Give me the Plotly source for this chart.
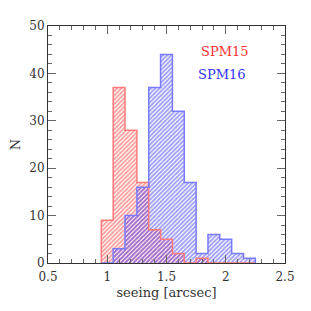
import plotly.graph_objects as go

bin_centers = [1.0, 1.1, 1.2, 1.3, 1.4, 1.5, 1.6, 1.7, 1.8, 1.9, 2.0, 2.1, 2.2]
spm15 = [9, 37, 28, 17, 7, 5, 2, 0, 1, 0, 0, 0, 0]
spm16 = [0, 3, 10, 16, 37, 44, 32, 17, 2, 6, 5, 2, 1]
bin_width = 0.1
x_ticks = [0.5, 1, 1.5, 2, 2.5]
x_tick_labels = ["0.5", "1", "1.5", "2", "2.5"]
y_ticks = [0, 10, 20, 30, 40, 50]

RED_HATCH = "#ff3a3a"
RED_LINE = "#ff7a7a"
BLUE_HATCH = "#3a3aff"
BLUE_LINE = "#7a7aff"

fig = go.Figure()


def add_hist(counts, hatch, line, name):
    fig.add_trace(go.Bar(
        x=bin_centers, y=counts, width=bin_width, name=name,
        marker=dict(color="rgba(0,0,0,0)", line=dict(width=0),
                    pattern=dict(shape="/", fgcolor=hatch, bgcolor="rgba(0,0,0,0)",
                                 size=3, solidity=0.6, fillmode="overlay")),
        showlegend=False, hoverinfo="skip"))
    xs, ys = [], []
    for c, v in zip(bin_centers, counts):
        xs.append(c - bin_width / 2)
        ys.append(v)
    xs.append(bin_centers[-1] + bin_width / 2)
    ys.append(counts[-1])
    xs = [xs[0]] + xs
    ys = [0] + ys
    xs.append(xs[-1])
    ys.append(0)
    fig.add_trace(go.Scatter(x=xs, y=ys, mode="lines", line=dict(color=line, width=1.5, shape="hv"),
                             showlegend=False, hoverinfo="skip"))


add_hist(spm15, RED_HATCH, RED_LINE, "SPM15")
add_hist(spm16, BLUE_HATCH, BLUE_LINE, "SPM16")

font = dict(family="DejaVu Serif", size=12, color="#333333")
title_font = dict(family="DejaVu Serif", size=13, color="#333333")

fig.add_annotation(x=1.99, y=44.7, text="SPM15", showarrow=False,
                   font=dict(family="DejaVu Serif", size=13, color="#ff3030"))
fig.add_annotation(x=1.97, y=39.8, text="SPM16", showarrow=False,
                   font=dict(family="DejaVu Serif", size=13, color="#3030ff"))

axis_common = dict(showline=True, linecolor="#333333", linewidth=1, mirror="allticks",
                   ticks="inside", ticklen=8, tickcolor="#666666", tickwidth=1,
                   showgrid=False, zeroline=False, tickfont=font, automargin=False)

fig.update_xaxes(range=[0.5, 2.5], tickvals=x_ticks, ticktext=x_tick_labels,
                 ticklabelstandoff=3,
                 title=dict(text="seeing [arcsec]", font=title_font, standoff=4),
                 minor=dict(ticks="inside", ticklen=4, dtick=0.1, tick0=0.5, tickcolor="#666666"),
                 **axis_common)
fig.update_yaxes(range=[0, 50], tickvals=y_ticks,
                 title=dict(text="N", font=title_font, standoff=12),
                 minor=dict(ticks="inside", ticklen=4, dtick=2, tick0=0, tickcolor="#666666"),
                 **axis_common)

fig.update_layout(width=303, height=303, barmode="overlay", bargap=0,
                  margin=dict(l=40, r=26, t=18, b=48),
                  plot_bgcolor="white", paper_bgcolor="white", font=font)

fig.write_html("out.html")
